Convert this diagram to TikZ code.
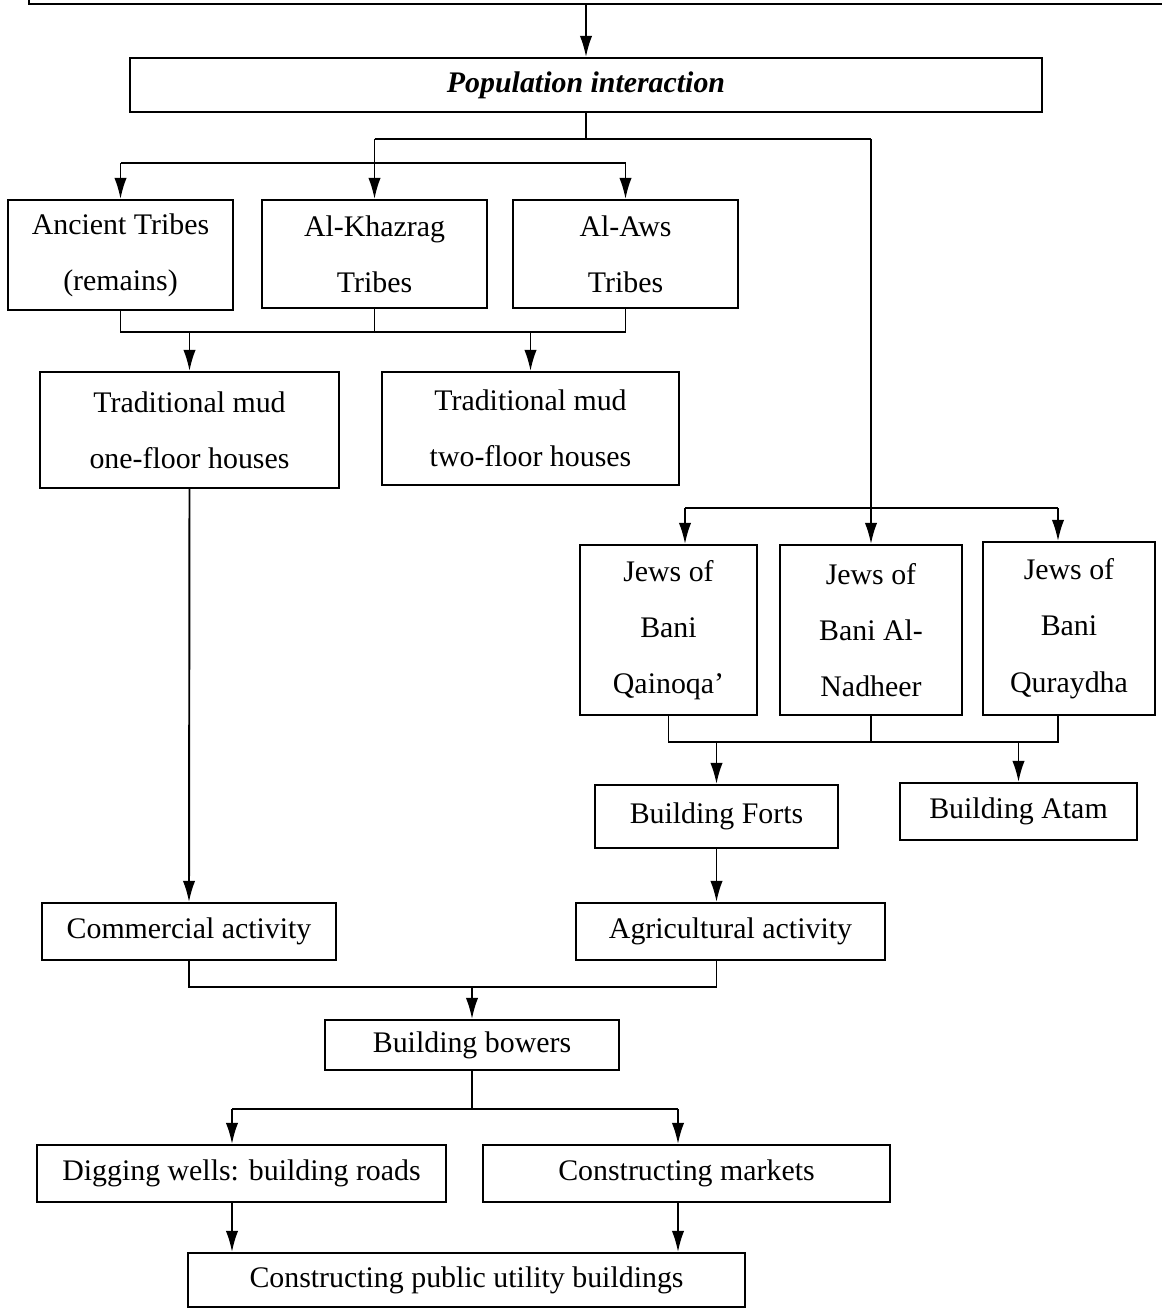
\documentclass[tikz,border=0pt]{standalone}
\usepackage{fontspec}
\setmainfont{Liberation Serif}
\usepackage{tikz}
\usetikzlibrary{
	positioning,
	arrows.meta
}

\begin{document}
\begin{tikzpicture}[
		box/.style={draw,line width=1.1pt,inner sep=2pt,align=center,
			font=\fontsize{17}{32}\selectfont},
		arr/.style={line width=1.1pt,-{Latex[length=12pt,width=7pt]}},
		link/.style={line width=1.1pt}
	]
		\useasboundingbox (0,0) rectangle (23.24,-26.18);
		\clip (0,0) rectangle (23.24,-26.18);

		\draw
			node[box,anchor=south west,minimum width=23cm,minimum height=3cm] (src) at (0.56,-0.10) {}
			node[box,minimum width=18.24cm,minimum height=1.08cm] (pop) at (11.72,-1.70) {\bfseries\itshape Population interaction}

			node[box,minimum width=4.50cm,minimum height=2.20cm] (anc)  at (2.41,-5.10)  {Ancient Tribes\\(remains)}
			node[box,minimum width=4.50cm,minimum height=2.16cm] (khaz) at (7.49,-5.08)  {Al-Khazrag\\Tribes}
			node[box,minimum width=4.50cm,minimum height=2.16cm] (aws)  at (12.51,-5.08) {Al-Aws\\Tribes}

			node[box,minimum width=5.98cm,minimum height=2.32cm] (onefl) at (3.79,-8.60)  {Traditional mud\\one-floor houses}
			node[box,minimum width=5.94cm,minimum height=2.26cm] (twofl) at (10.61,-8.57) {Traditional mud\\two-floor houses}

			node[box,minimum width=3.54cm,minimum height=3.40cm] (qain) at (13.37,-12.60) {Jews of\\Bani\\Qainoqa’}
			node[box,minimum width=3.64cm,minimum height=3.40cm] (nadh) at (17.42,-12.60) {Jews of\\Bani Al-\\Nadheer}
			node[box,minimum width=3.44cm,minimum height=3.46cm] (qur)  at (21.38,-12.57) {Jews of\\Bani\\Quraydha}

			node[box,minimum width=4.86cm,minimum height=1.26cm] (forts) at (14.33,-16.33) {Building Forts}
			node[box,minimum width=4.74cm,minimum height=1.14cm] (atam)  at (20.37,-16.23) {Building Atam}

			node[box,minimum width=5.88cm,minimum height=1.14cm] (comm) at (3.78,-18.63)  {Commercial activity}
			node[box,minimum width=6.18cm,minimum height=1.14cm] (agri) at (14.61,-18.63) {Agricultural activity}

			node[box,minimum width=5.88cm,minimum height=1.00cm] (bow) at (9.44,-20.90) {Building bowers}

			node[box,minimum width=8.18cm,minimum height=1.14cm] (wells) at (4.83,-23.47)  {Digging wells: building roads}
			node[box,minimum width=8.14cm,minimum height=1.14cm] (mark)  at (13.73,-23.47) {Constructing markets}

			node[box,minimum width=11.14cm,minimum height=1.08cm] (pub) at (9.33,-25.60) {Constructing public utility buildings}
		;

		% population interaction
		\draw[arr] (src.south -| pop.north) -- (pop.north);
		\draw[link] (pop.south) -- ++(0,-0.52) coordinate (pj);
		\draw[link] (khaz.north |- pj) -- (nadh.north |- pj);
		\draw[arr] (khaz.north |- pj) -- (khaz.north);
		\draw[arr] (nadh.north |- pj) -- (nadh.north);

		% tribes
		\coordinate (tj) at (0,-3.26);
		\draw[link] (anc.north |- tj) -- (aws.north |- tj);
		\draw[arr] (anc.north |- tj) -- (anc.north);
		\draw[arr] (aws.north |- tj) -- (aws.north);

		\coordinate (mj) at (0,-6.64);
		\draw[link] (anc.south) -- (anc.south |- mj) -- (aws.south |- mj) -- (aws.south);
		\draw[link] (khaz.south) -- (khaz.south |- mj);
		\draw[arr] (onefl.north |- mj) -- (onefl.north);
		\draw[arr] (twofl.north |- mj) -- (twofl.north);
		\draw[arr] (onefl.south) -- (comm.north);

		% jews
		\coordinate (jj) at (0,-10.16);
		\draw[link] ([xshift=0.33cm]qain.north |- jj) -- ([xshift=-0.22cm]qur.north |- jj);
		\draw[arr] ([xshift=0.33cm]qain.north |- jj) -- ([xshift=0.33cm]qain.north);
		\draw[arr] ([xshift=-0.22cm]qur.north |- jj) -- ([xshift=-0.22cm]qur.north);

		\coordinate (kj) at (0,-14.84);
		\draw[link] (qain.south) -- (qain.south |- kj) -- ([xshift=-0.22cm]qur.south |- kj) -- ([xshift=-0.22cm]qur.south);
		\draw[link] (nadh.south) -- (nadh.south |- kj);
		\draw[arr] (forts.north |- kj) -- (forts.north);
		\draw[arr] (atam.north |- kj) -- (atam.north);
		\draw[arr] (forts.south) -- (forts.south |- agri.north);

		% activities
		\coordinate (aj) at (0,-19.74);
		\draw[link] (comm.south) -- (comm.south |- aj) -- (forts.south |- aj) -- (forts.south |- agri.south);
		\draw[arr] (bow.north |- aj) -- (bow.north);

		\coordinate (bj) at (0,-22.18);
		\draw[link] (bow.south) -- (bow.south |- bj);
		\draw[link] ([xshift=-0.19cm]wells.north |- bj) -- ([xshift=-0.17cm]mark.north |- bj);
		\draw[arr] ([xshift=-0.19cm]wells.north |- bj) -- ([xshift=-0.19cm]wells.north);
		\draw[arr] ([xshift=-0.17cm]mark.north |- bj) -- ([xshift=-0.17cm]mark.north);
		\draw[arr] ([xshift=-0.19cm]wells.south) -- ([xshift=-0.19cm]wells.south |- pub.north);
		\draw[arr] ([xshift=-0.17cm]mark.south) -- ([xshift=-0.17cm]mark.south |- pub.north);
	\end{tikzpicture}
\end{document}
